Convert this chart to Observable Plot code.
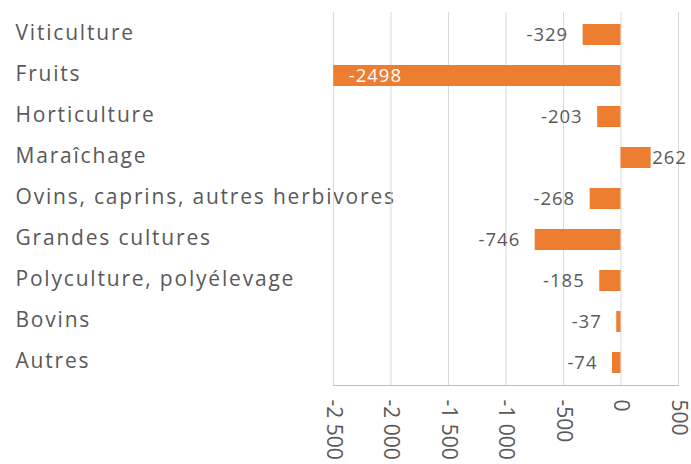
<!DOCTYPE html>
<html><head><meta charset="utf-8">
<script src="https://cdn.jsdelivr.net/npm/d3@7"></script>
<script src="https://cdn.jsdelivr.net/npm/@observablehq/plot@0.6"></script>
<style>html,body{margin:0;padding:0;background:#fff;}
.cat text{letter-spacing:1.8px;}
.val{letter-spacing:1px;}
</style>
</head><body><div id="chart"></div>
<script>
const categories = ["Viticulture","Fruits","Horticulture","Maraîchage","Ovins, caprins, autres herbivores","Grandes cultures","Polyculture, polyélevage","Bovins","Autres"];
const values = [-329,-2498,-203,262,-268,-746,-185,-37,-74];
const xTicks = [-2500,-2000,-1500,-1000,-500,0,500];

const data = categories.map((c,i)=>({category:c, value:values[i]}));
const fr = d3.formatLocale({decimal:",", thousands:"\u00a0", grouping:[3], currency:["","€"], minus:"-"});
const fmt = fr.format(",d");
const inside = d => d.value < -2000;
const gray = "#595959";

const chart = Plot.plot({
  width:691, height:464, marginLeft:333, marginRight:13, marginTop:12, marginBottom:79,
  style:{fontFamily:"'Open Sans', sans-serif", color:gray, background:"#fff", overflow:"visible"},
  x:{domain:[-2500,500], ticks:xTicks},
  y:{domain:categories, paddingInner:0.49, paddingOuter:0.245},
  marks:[
    Plot.axisY({tickSize:0, tickPadding:0, textAnchor:"start", dx:-318, dy:-2, fontSize:21, fill:gray, label:null, className:"cat"}),
    Plot.gridX(xTicks, {stroke:"#d9d9d9", strokeOpacity:1}),
    Plot.frame({anchor:"bottom", stroke:"#bfbfbf"}),
    Plot.axisX(xTicks, {tickRotate:90, tickSize:0, tickPadding:14, textAnchor:"start", tickFormat:fmt, fontSize:21, fill:gray, label:null}),
    Plot.barX(data, {x:"value", y:"category", fill:"#ED7D31"}),
    Plot.text(data.filter(d=>d.value<0 && !inside(d)), {x:"value", y:"category", text:d=>String(d.value), textAnchor:"end", dx:-15, fontSize:18.5, fill:gray, className:"val"}),
    Plot.text(data.filter(inside), {x:"value", y:"category", text:d=>String(d.value), textAnchor:"start", dx:15, fontSize:18.5, fill:"#fff", className:"val"}),
    Plot.text(data.filter(d=>d.value>0), {x:"value", y:"category", text:d=>String(d.value), textAnchor:"start", dx:1, fontSize:18.5, fill:gray, className:"val"})
  ]
});
document.getElementById("chart").append(chart);
</script>
</body></html>
